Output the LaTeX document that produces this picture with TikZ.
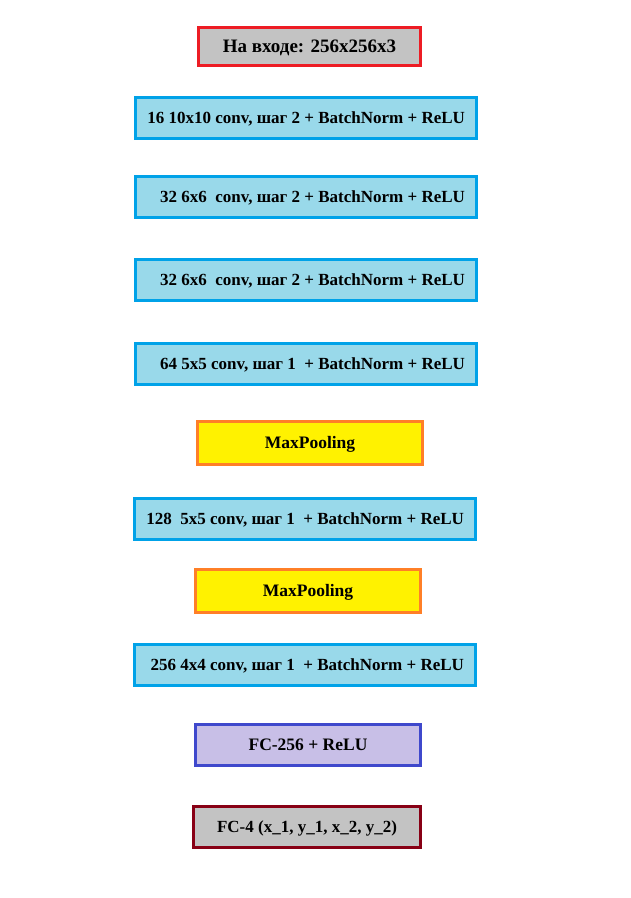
\documentclass[tikz,border=0pt]{standalone}
\usepackage{fontspec}
\setmainfont{Liberation Serif}
\usepackage{tikz}
\definecolor{convfill}{HTML}{99D9EA}
\definecolor{convline}{HTML}{00A2E8}
\definecolor{poolfill}{HTML}{FFF200}
\definecolor{poolline}{HTML}{FF7F27}
\definecolor{fcfill}{HTML}{C8BFE7}
\definecolor{fcline}{HTML}{3F48CC}
\definecolor{grayfill}{HTML}{C3C3C3}
\definecolor{inline}{HTML}{ED1C24}
\definecolor{outline}{HTML}{880015}
\newcommand{\convtext}[1]{\makebox[318pt][r]{#1}}

\begin{document}
\begin{tikzpicture}[x=1pt, y=-1pt,
  box/.style={draw, line width=3pt, minimum height=41pt, inner sep=0pt,
    text height=14pt, text depth=3pt,
    font=\bfseries\fontsize{17.5}{21}\selectfont},
  convbox/.style={box, fill=convfill, draw=convline, minimum width=341pt,
    font=\bfseries\fontsize{17}{21}\selectfont},
  poolbox/.style={box, fill=poolfill, draw=poolline, minimum width=225pt, minimum height=43pt}]
  \useasboundingbox[fill=white] (0,0) rectangle (630,898);

  \node[box, fill=grayfill, draw=inline, minimum width=222pt, minimum height=38pt,
    font=\bfseries\fontsize{19}{22}\selectfont]
    (in) at (309.5,46.5) {На входе: 256x256x3};

  \node[convbox] (c1) at (306,118) {\convtext{16 10x10 conv, шаг 2 + BatchNorm + ReLU}};
  \node[convbox] (c2) at (306,197) {\convtext{32 6x6\ \ conv, шаг 2 + BatchNorm + ReLU}};
  \node[convbox] (c3) at (306,280) {\convtext{32 6x6\ \ conv, шаг 2 + BatchNorm + ReLU}};
  \node[convbox] (c4) at (306,364) {\convtext{64 5x5 conv, шаг 1\ \ + BatchNorm + ReLU}};

  \node[poolbox] (p1) at (310,443) {MaxPooling};

  \node[convbox] (c5) at (305,519) {\convtext{128\ \ 5x5 conv, шаг 1\ \ + BatchNorm + ReLU}};

  \node[poolbox] (p2) at (308,591) {MaxPooling};

  \node[convbox] (c6) at (305,665) {\convtext{256 4x4 conv, шаг 1\ \ + BatchNorm + ReLU}};

  \node[box, fill=fcfill, draw=fcline, minimum width=225pt]
    (fc1) at (308,745) {FC-256 + ReLU};
  \node[box, fill=grayfill, draw=outline, minimum width=227pt,
    font=\bfseries\fontsize{17}{21}\selectfont]
    (fc2) at (307,827) {FC-4 (x\_1, y\_1, x\_2, y\_2)};
\end{tikzpicture}
\end{document}
